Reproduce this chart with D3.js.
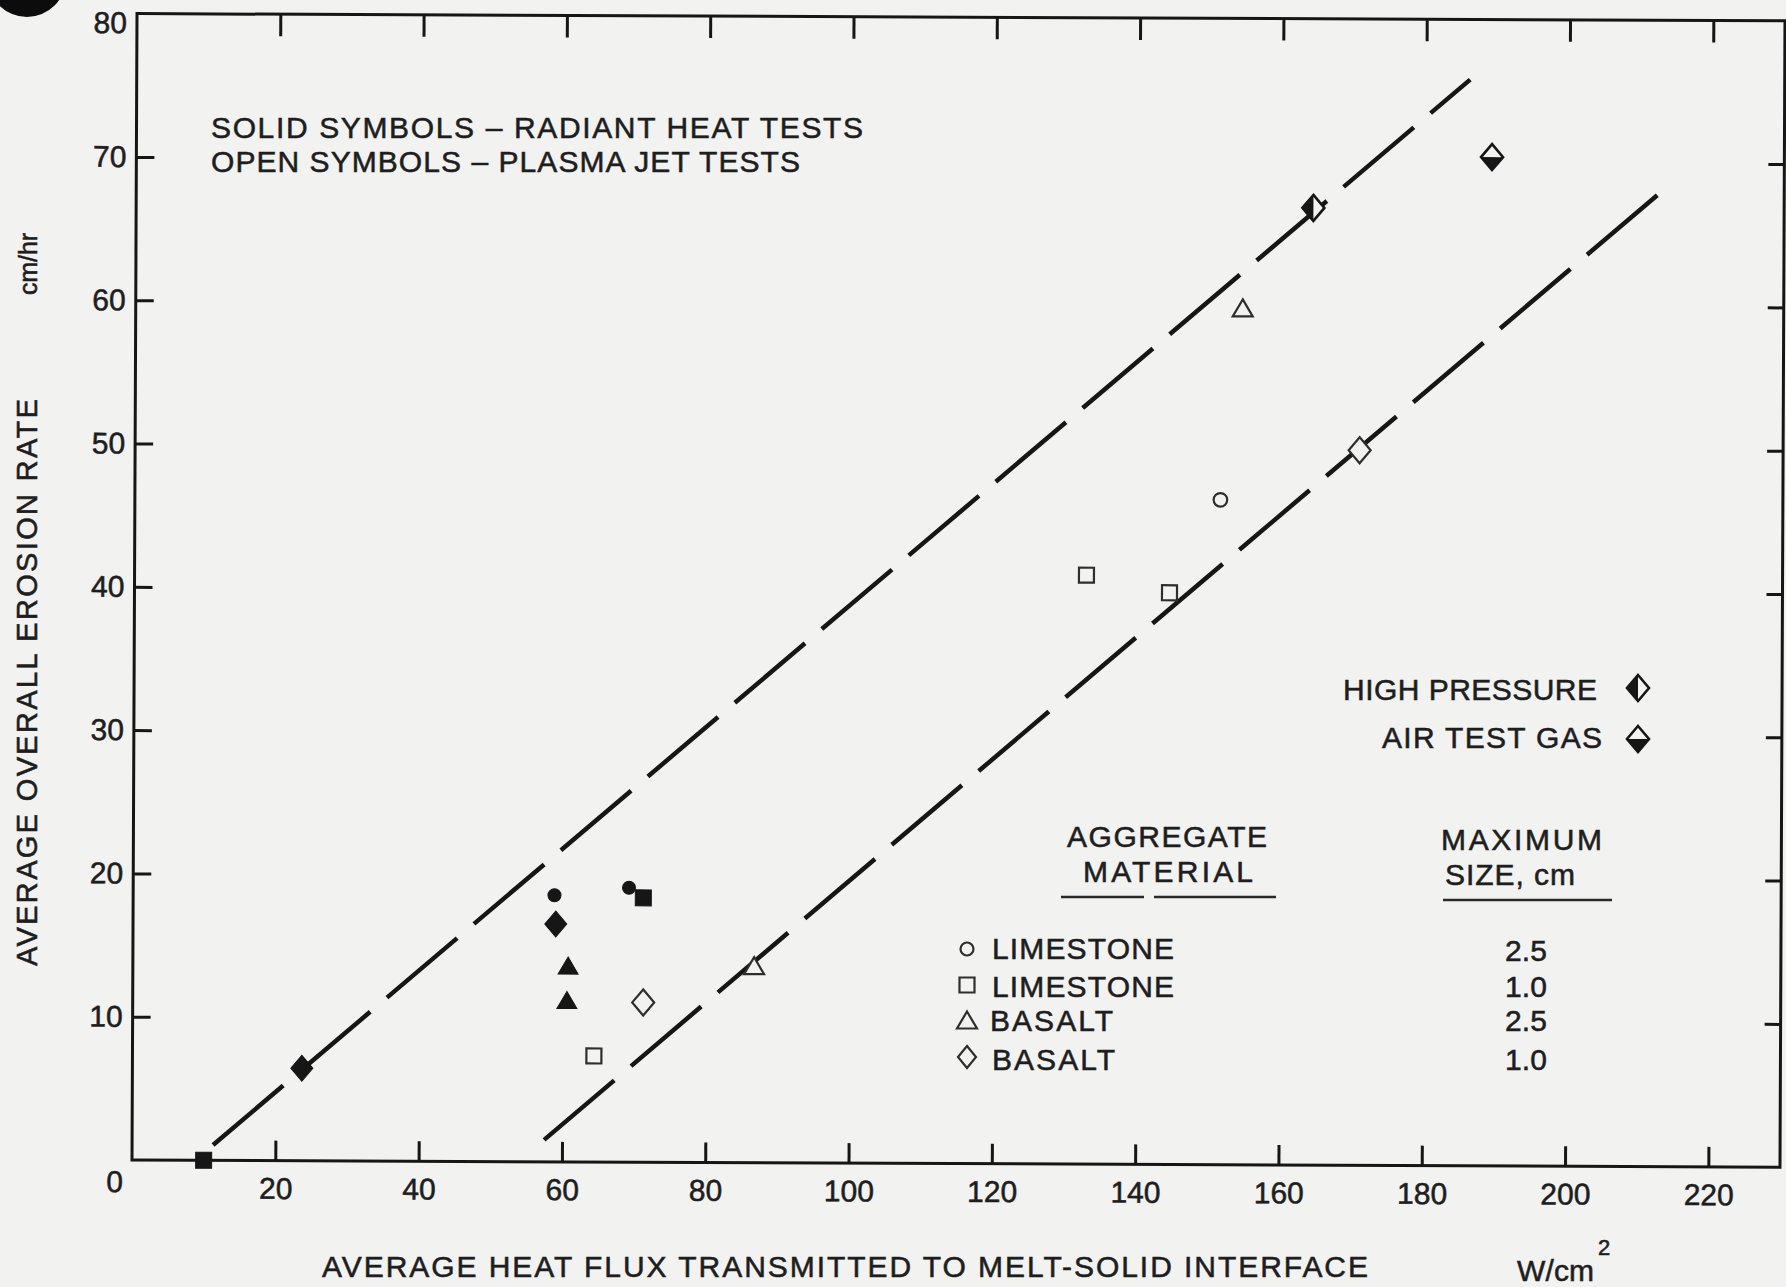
<!DOCTYPE html>
<html><head><meta charset="utf-8">
<script src="https://cdn.jsdelivr.net/npm/d3@7"></script>
<style>
html,body{margin:0;padding:0;background:#f2f2f1;}
svg{display:block;}
text{font-family:"Liberation Sans",Arial,Helvetica,sans-serif;fill:#1e1e1e;stroke:#1e1e1e;stroke-width:0.55px;}
</style></head><body>
<svg id="chart" width="1786" height="1287"></svg>
<script>
// ---------------- DATA ----------------
const xTicks = [20, 40, 60, 80, 100, 120, 140, 160, 180, 200, 220];
const yTicks = [0, 10, 20, 30, 40, 50, 60, 70, 80];
const xDomain = [0, 230];
const yDomain = [0, 80];

// Radiant heat tests (solid symbols)
const radiantLimestone25 = [[58.8, 18.6], [69.2, 19.15]];          // solid circles
const radiantLimestone10 = [[10.0, 0.0], [71.2, 18.45]];           // solid squares
const radiantBasalt25    = [[60.75, 13.7], [60.6, 11.3]];          // solid triangles
const radiantBasalt10    = [[23.65, 6.45], [59.0, 16.6]];          // solid diamonds
// Plasma jet tests (open symbols)
const plasmaLimestone25  = [[151.5, 46.4]];                        // open circles
const plasmaLimestone10  = [[64.4, 7.4], [132.85, 41.1], [144.45, 39.9]]; // open squares
const plasmaBasalt25     = [[86.7, 13.75], [154.5, 59.8]];         // open triangles
const plasmaBasalt10     = [[71.25, 11.15], [170.9, 49.9]];        // open diamonds
const highPressure       = [[164.3, 66.8]];
const airTestGas         = [[189.2, 70.4]];
// bounding dashed lines
const upperBound = [[11.3, 1.07], [186.1, 75.8]];
const lowerBound = [[57.5, 1.53], [212.3, 67.8]];

const legendMaterials = ["LIMESTONE", "LIMESTONE", "BASALT", "BASALT"];
const legendShapes    = ["circle", "square", "triangle", "diamond"];
const legendSizes     = ["2.5", "1.0", "2.5", "1.0"];

// ---------------- DRAW ----------------
const svg = d3.select("#chart");
const INK = "#161616";
const BG = "#f2f2f1";

const x = d3.scaleLinear().domain(xDomain).range([132, 1780]);
const y = d3.scaleLinear().domain(yDomain).range([1160, 13.6]);

// the scan is slightly rotated clockwise
const plot = svg.append("g").attr("transform", `rotate(0.25, ${x(0)}, ${y(0)})`);

function circlePath(r) { const p = d3.path(); p.arc(0, 0, r, 0, 2 * Math.PI); return p.toString(); }
function shapePath(type) {
  switch (type) {
    case "circle": return circlePath(6.8);
    case "dot": return circlePath(6.5);
    case "square": return "M-7.5,-7.5H7.5V7.5H-7.5Z";
    case "bigsquare": return "M-8,-8H8V8H-8Z";
    case "triangle": return "M0,-8.5L10,8.5L-10,8.5Z";
    case "diamond": return "M0,-13L11,0L0,13L-11,0Z";
    case "halfLeft": return "M0,-13L0,13L-11,0Z";
    case "halfBottom": return "M-11,0L11,0L0,13Z";
  }
}

// frame
plot.append("rect")
  .attr("x", x(0)).attr("y", y(80))
  .attr("width", x(230) - x(0)).attr("height", y(0) - y(80))
  .attr("fill", "none").attr("stroke", INK).attr("stroke-width", 3);

function styleAxis(g) {
  g.select(".domain").remove();
  g.selectAll(".tick line").attr("stroke", INK).attr("stroke-width", 3);
  g.selectAll(".tick text").attr("font-size", 30).attr("fill", "#1e1e1e")
    .attr("font-family", '"Liberation Sans",Arial,sans-serif');
}

plot.append("g").attr("transform", `translate(0,${y(0)})`)
  .call(d3.axisBottom(x).tickValues(xTicks).tickSize(-20).tickPadding(17).tickFormat(d3.format("d")))
  .call(styleAxis);
plot.append("g").attr("transform", `translate(0,${y(80)})`)
  .call(d3.axisTop(x).tickValues(xTicks).tickSize(-22).tickFormat(""))
  .call(styleAxis);
const yAx = plot.append("g").attr("transform", `translate(${x(0)},0)`)
  .call(d3.axisLeft(y).tickValues(yTicks).tickSize(-18).tickPadding(10).tickFormat(d3.format("d")))
  .call(styleAxis);
yAx.selectAll(".tick").filter(d => d === 0 || d === 80).select("line").remove();
yAx.selectAll(".tick text").attr("transform", d => d === 0 ? "translate(1,22)" : d === 80 ? "translate(0,9.4)" : null);
plot.append("g").attr("transform", `translate(${x(230)},0)`)
  .call(d3.axisRight(y).tickValues(yTicks.filter(v => v > 0 && v < 80)).tickSize(-16).tickFormat(""))
  .call(styleAxis);

// dashed bounding lines
const line = d3.line().x(d => x(d[0])).y(d => y(d[1]));
[upperBound, lowerBound].forEach(L => {
  plot.append("path").attr("d", line(L)).attr("fill", "none")
    .attr("stroke", INK).attr("stroke-width", 4.5)
    .attr("stroke-dasharray", "92,22");
});

// markers
function drawPoints(data, type, filled) {
  plot.append("g").selectAll("path").data(data).join("path")
    .attr("transform", d => `translate(${x(d[0])},${y(d[1])})`)
    .attr("d", shapePath(type))
    .attr("fill", filled ? INK : BG)
    .attr("stroke", filled ? INK : "#2e2e2e")
    .attr("stroke-width", filled ? 1 : 2.2);
}
drawPoints(radiantLimestone25, "dot", true);
drawPoints(radiantLimestone10, "bigsquare", true);
drawPoints(radiantBasalt25, "triangle", true);
drawPoints(radiantBasalt10, "diamond", true);
drawPoints(plasmaLimestone25, "circle", false);
drawPoints(plasmaLimestone10, "square", false);
drawPoints(plasmaBasalt25, "triangle", false);
drawPoints(plasmaBasalt10, "diamond", false);

function drawHalf(data, half, g, px, py) {
  const sel = (g || plot).append("g").selectAll("g").data(data).join("g")
    .attr("transform", d => px !== undefined ? `translate(${px},${py})` : `translate(${x(d[0])},${y(d[1])})`);
  sel.append("path").attr("d", shapePath("diamond")).attr("fill", BG)
    .attr("stroke", INK).attr("stroke-width", 2.6);
  sel.append("path").attr("d", shapePath(half)).attr("fill", INK);
}
drawHalf(highPressure, "halfLeft");
drawHalf(airTestGas, "halfBottom");

// ---------------- TEXT ----------------
const ann = svg.append("g");
function txt(s, x0, yb, w, size, opts = {}) {
  const t = ann.append("text").attr("x", x0).attr("y", yb)
    .attr("font-size", size).text(s);
  if (w) t.attr("textLength", w).attr("lengthAdjust", "spacing");
  if (opts.transform) t.attr("transform", opts.transform).attr("x", 0).attr("y", 0);
  return t;
}

// corner blob of the scan
svg.append("circle").attr("cx", 27).attr("cy", -22).attr("r", 39).attr("fill", "#0c0c0c");

txt("SOLID SYMBOLS \u2013 RADIANT HEAT TESTS", 211, 138, 652, 30);
txt("OPEN SYMBOLS \u2013 PLASMA JET TESTS", 211, 172, 589, 30);

txt("HIGH PRESSURE", 1343, 700, 254, 30);
txt("AIR TEST GAS", 1382, 748, 220, 30);
drawHalf([0], "halfLeft", ann, 1638, 688);
drawHalf([0], "halfBottom", ann, 1638, 739);

txt("AGGREGATE", 1067, 847, 200, 30);
txt("MATERIAL", 1083, 882, 170, 30);
txt("MAXIMUM", 1441, 850, 161, 30);
txt("SIZE, cm", 1445, 885, 130, 30);
ann.append("line").attr("x1", 1061).attr("x2", 1276).attr("y1", 897).attr("y2", 897)
  .attr("stroke", "#2a2a2a").attr("stroke-width", 2.5).attr("stroke-dasharray", "83,10,300");
ann.append("line").attr("x1", 1443).attr("x2", 1612).attr("y1", 900).attr("y2", 900)
  .attr("stroke", "#2a2a2a").attr("stroke-width", 2.5);

const rowBase = [959, 997, 1031, 1070];
const rowSym = [949, 985, 1020, 1057];
const legW = [182, 182, 123, 123];
legendMaterials.forEach((m, i) => {
  txt(m, i === 2 ? 990 : 992, rowBase[i], legW[i], 30);
  txt(legendSizes[i], 1505, rowBase[i] + (i === 0 ? 2 : 0), 42, 30);
  const type = legendShapes[i];
  ann.append("path").attr("transform", `translate(967,${rowSym[i]})`)
    .attr("d", type === "diamond" ? "M0,-11L9,0L0,11L-9,0Z" : type === "circle" ? circlePath(6.5) : shapePath(type))
    .attr("fill", "none").attr("stroke", "#2e2e2e").attr("stroke-width", 2.2);
});

// axis titles
txt("AVERAGE HEAT FLUX TRANSMITTED TO MELT-SOLID INTERFACE", 322, 1277, 1046, 30);
txt("W/cm", 1517, 1281, 77, 30);
txt("2", 1598, 1255, null, 22);
txt("AVERAGE OVERALL EROSION RATE", 0, 0, 567, 29, {transform: "translate(37,966) rotate(-90)"});
txt("cm/hr", 0, 0, 62, 25, {transform: "translate(37,295) rotate(-90)"});
</script>
</body></html>
